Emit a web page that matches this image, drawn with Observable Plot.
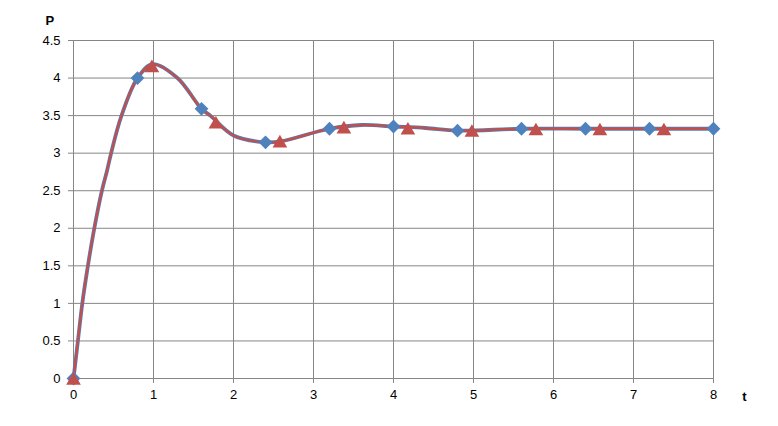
<!DOCTYPE html>
<html>
<head>
<meta charset="utf-8">
<script src="https://cdn.jsdelivr.net/npm/d3@7"></script>
<script src="https://cdn.jsdelivr.net/npm/@observablehq/plot@0.6"></script>
<style>
  html, body { margin: 0; padding: 0; background: #fff; }
</style>
</head>
<body>
<div id="chart"></div>
<script>
// Series 1 (blue diamonds) — marker positions
const blueT = [0, 0.8, 1.6, 2.4, 3.2, 4.0, 4.8, 5.6, 6.4, 7.2, 8.0];
const blueP = [0, 4.0, 3.59, 3.145, 3.325, 3.355, 3.30, 3.325, 3.325, 3.325, 3.325];
// Series 2 (red triangles) — marker positions
const redT = [0, 0.98, 1.78, 2.58, 3.38, 4.18, 4.98, 5.78, 6.58, 7.38];
const redP = [0, 4.16, 3.41, 3.16, 3.345, 3.33, 3.30, 3.32, 3.32, 3.32];
// Smoothed curve (both series' lines coincide)
const curveT = [0, 0.055, 0.11, 0.18, 0.26, 0.355, 0.42, 0.47, 0.60, 0.8, 0.99, 1.30, 1.6, 1.71, 2.0, 2.4, 2.6, 3.2, 3.6, 4.0, 4.4, 4.8, 5.6, 6.4, 7.2, 8.0];
const curveP = [0, 0.5, 1.0, 1.5, 2.0, 2.5, 2.77, 3.0, 3.5, 4.0, 4.185, 4.0, 3.59, 3.5, 3.235, 3.145, 3.16, 3.325, 3.375, 3.355, 3.335, 3.30, 3.325, 3.325, 3.325, 3.325];
const xTicks = [0, 1, 2, 3, 4, 5, 6, 7, 8];
const yTicks = [0, 0.5, 1, 1.5, 2, 2.5, 3, 3.5, 4, 4.5];

const blue = blueT.map((t, i) => ({t, p: blueP[i]}));
const red = redT.map((t, i) => ({t, p: redP[i]}));
const curve = curveT.map((t, i) => ({t, p: curveP[i]}));

const grid = "#868686";
const chart = Plot.plot({
  width: 778,
  height: 426,
  marginLeft: 73,
  marginRight: 65,
  marginTop: 40,
  marginBottom: 48,
  style: {fontFamily: "'Liberation Sans', Arial, sans-serif", fontSize: "13px", color: "#000", background: "#fff"},
  x: {domain: [0, 8]},
  y: {domain: [0, 4.5]},
  marks: [
    Plot.ruleX(xTicks, {stroke: grid, strokeWidth: 1, strokeOpacity: 1}),
    Plot.ruleY(yTicks, {stroke: grid, strokeWidth: 1, strokeOpacity: 1}),
    Plot.axisX({ticks: xTicks, tickSize: 5, tickPadding: 6, stroke: grid, strokeOpacity: 1, tickFormat: d => String(d), label: null}),
    Plot.axisY({ticks: yTicks, tickSize: 5, tickPadding: 8, stroke: grid, strokeOpacity: 1, tickFormat: d => String(d), label: null}),
    Plot.lineY(curve, {x: "t", y: "p", stroke: "#4F81BD", strokeWidth: 3.8, curve: "catmull-rom"}),
    Plot.lineY(curve, {x: "t", y: "p", stroke: "#C0504D", strokeWidth: 2.4, curve: "catmull-rom"}),
    Plot.dot(blue, {x: "t", y: "p", symbol: "diamond2", r: 6.2, fill: "#4F81BD", stroke: "none"}),
    Plot.dot(red, {x: "t", y: "p", symbol: "triangle2", r: 7, fill: "#C0504D", stroke: "none", dy: 2}),
    Plot.text(["P"], {frameAnchor: "top-left", dx: -28, dy: -25, fontWeight: "bold", fontSize: 13}),
    Plot.text(["t"], {frameAnchor: "bottom-right", dx: 33, dy: 22, fontWeight: "bold", fontSize: 13})
  ]
});
document.getElementById("chart").appendChild(chart);
</script>
</body>
</html>
